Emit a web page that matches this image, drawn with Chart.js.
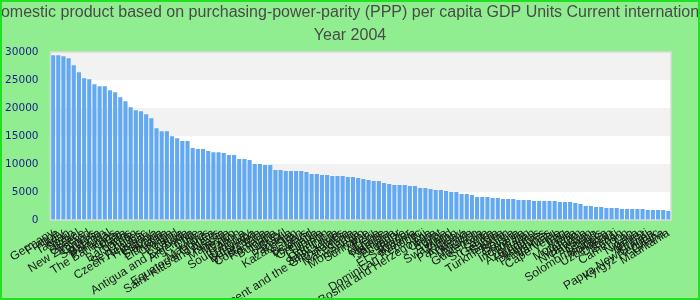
<!DOCTYPE html>
<html>
<head>
<meta charset="utf-8">
<script src="https://cdn.jsdelivr.net/npm/chart.js@4/dist/chart.umd.min.js"></script>
<style>
html,body{margin:0;padding:0;background:#90ee90;}
#wrap{width:700px;height:300px;position:relative;}
canvas{display:block;}
</style>
</head>
<body>
<div id="wrap"><canvas id="c" width="700" height="300"></canvas></div>
<script>
const TITLE_LINES = [
  "Gross domestic product based on purchasing-power-parity (PPP) per capita GDP Units Current international dollar",
  "Year 2004"
];

const countries = [
  "Germany","France","Italy","Taiwan","Spain","Israel","Greece","New Zealand","Cyprus","Slovenia",
  "Bahrain","Portugal","The Bahamas","Korea","Malta","Barbados","Oman","Seychelles","Czech Republic","Hungary",
  "Estonia","Slovakia","Lithuania","Croatia","Poland","Latvia","Antigua and Barbuda","Argentina","Chile","Libya",
  "Mauritius","Equatorial Guinea","Saint Kitts and Nevis","Russia","Malaysia","Mexico","Gabon","South Africa","Uruguay","Botswana",
  "Venezuela","Costa Rica","Romania","Bulgaria","Turkey","Brazil","Panama","Kazakhstan","Iran","Belarus",
  "Thailand","Grenada","Tunisia","Lebanon","Dominica","Saint Lucia","Saint Vincent and the Grenadines","Colombia","Macedonia","Serbia",
  "Montenegro","Suriname","Peru","Algeria","Ukraine","Namibia","Jamaica","Ecuador","Belize","El Salvador",
  "Albania","Dominican Republic","Fiji","Bosnia and Herzegovina","China","Egypt","Tonga","Swaziland","Jordan","Paraguay",
  "Armenia","Angola","Morocco","Guatemala","Syria","Sri Lanka","Georgia","Samoa","Turkmenistan","Bolivia",
  "Guyana","Indonesia","Bhutan","Azerbaijan","Honduras","Maldives","Philippines","Vanuatu","Cape Verde","Iraq",
  "India","Mongolia","Vietnam","Nicaragua","Pakistan","Congo","Solomon Islands","Moldova","Uzbekistan","Djibouti",
  "Sudan","Cameroon","Lao","Nigeria","Yemen","Kiribati","Papua New Guinea","Kyrgyz Republic","Ghana","Mauritania"
];

const gdpPppPerCapita = [
  29400,29400,29230,28870,27620,26370,25300,25130,24240,23880,
  23880,23170,22810,21920,21210,20140,19600,19420,18890,18180,
  16390,15860,15860,14970,14620,14090,14090,12840,12660,12660,
  12300,12120,12120,11950,11590,11590,10880,10880,10700,9990,
  9990,9810,9810,8920,8920,8740,8740,8740,8740,8560,
  8200,8200,8020,8020,7850,7850,7850,7670,7670,7490,
  7310,7130,6950,6950,6600,6420,6240,6240,6240,6060,
  6060,5710,5710,5530,5350,5350,5170,4990,4990,4640,
  4640,4460,4100,4100,4100,3920,3920,3740,3740,3740,
  3570,3570,3570,3390,3390,3390,3390,3390,3210,3210,
  3210,3030,2850,2500,2500,2320,2320,2140,2140,2140,
  1960,1960,1960,1960,1960,1780,1780,1780,1780,1600
];

const yTicks = [0,5000,10000,15000,20000,25000,30000];

const bgPlugin = {
  id: 'bg',
  beforeDraw(chart) {
    const ctx = chart.ctx;
    ctx.save();
    ctx.fillStyle = '#90ee90';
    ctx.fillRect(0, 0, chart.width, chart.height);
    ctx.restore();
  },
  beforeDatasetsDraw(chart) {
    const {ctx, chartArea: a, scales: {y}} = chart;
    ctx.save();
    for (let i = 0; i < yTicks.length - 1; i++) {
      const top = y.getPixelForValue(yTicks[i + 1]);
      const bot = y.getPixelForValue(yTicks[i]);
      ctx.fillStyle = (i % 2 === 0) ? '#ffffff' : '#f2f2f2';
      ctx.fillRect(a.left, top, a.right - a.left, bot - top);
    }
    ctx.restore();
  },
  afterDatasetsDraw(chart) {
    const {ctx, chartArea: a} = chart;
    ctx.save();
    ctx.strokeStyle = '#dadada';
    ctx.lineWidth = 1.5;
    ctx.strokeRect(a.left, a.top, a.right - a.left, a.bottom - a.top);
    ctx.restore();
  },
  afterDraw(chart) {
    const ctx = chart.ctx;
    ctx.save();
    ctx.fillStyle = '#4a4a4a';
    ctx.font = '16px "Liberation Sans", Arial, sans-serif';
    ctx.textAlign = 'center';
    ctx.textBaseline = 'middle';
    ctx.fillText(TITLE_LINES[0], chart.width / 2, 13);
    ctx.fillText(TITLE_LINES[1], chart.width / 2, 36);
    ctx.strokeStyle = '#22e022';
    ctx.lineWidth = 2;
    ctx.strokeRect(1, 1, chart.width - 2, chart.height - 2);
    ctx.restore();
  }
};

new Chart(document.getElementById('c'), {
  type: 'bar',
  data: {
    labels: countries,
    datasets: [{
      data: gdpPppPerCapita,
      backgroundColor: 'rgb(99,169,241)',
      borderWidth: 0,
      barPercentage: 0.8,
      categoryPercentage: 1.0
    }]
  },
  options: {
    responsive: false,
    animation: false,
    devicePixelRatio: 1,
    layout: { padding: { top: 52, left: 0, right: 29, bottom: 0 } },
    plugins: { legend: { display: false }, title: { display: false }, tooltip: { enabled: false } },
    scales: {
      x: {
        grid: { display: false, drawTicks: true, tickLength: 4 },
        border: { display: false },
        afterFit(scale) { scale.height = 80; },
        ticks: {
          autoSkip: false,
          minRotation: 32,
          maxRotation: 32,
          padding: 2,
          color: '#1a1a1a',
          font: { family: '"Liberation Sans", Arial, sans-serif', size: 12 }
        }
      },
      y: {
        min: 0,
        max: 30000,
        grid: { display: false, drawTicks: true, tickLength: 8 },
        border: { display: false },
        afterFit(scale) { scale.width = 50.5; },
        ticks: {
          stepSize: 5000,
          padding: 4,
          color: '#1c1c8c',
          font: { family: '"DejaVu Sans", sans-serif', size: 10.5 },
          callback: (v) => String(v)
        }
      }
    }
  },
  plugins: [bgPlugin]
});
</script>
</body>
</html>
